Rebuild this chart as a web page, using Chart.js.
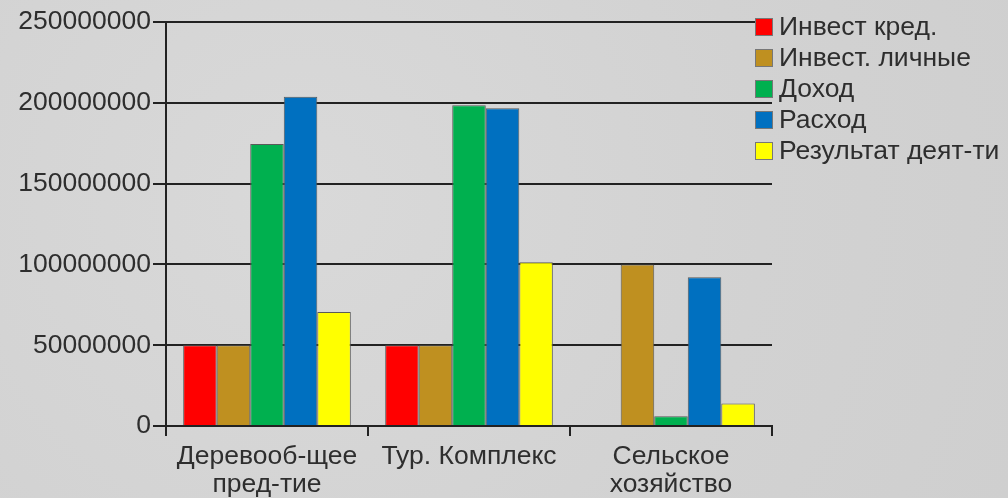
<!DOCTYPE html>
<html>
<head>
<meta charset="utf-8">
<script src="https://cdn.jsdelivr.net/npm/chart.js@4.4.1/dist/chart.umd.min.js"></script>
<style>
  html, body { margin: 0; padding: 0; }
  body {
    width: 1008px; height: 498px; overflow: hidden;
    background: #d4d4d4;
    background-image: radial-gradient(circle at 30% 40%, #d9d9d9 0%, #d2d2d2 60%, #cfcfcf 100%);
  }
  #wrap { position: relative; width: 1008px; height: 498px; }
</style>
</head>
<body>
<div id="wrap"><canvas id="chart" width="1008" height="498"></canvas></div>
<script>
// категории и ряды
const categories = [["Деревооб-щее", "пред-тие"], "Тур. Комплекс", ["Сельское", "хозяйство"]];
const seriesNames = ["Инвест кред.", "Инвест. личные", "Доход", "Расход", "Результат деят-ти"];
const investKred = [50000000, 50000000, 0];
const investLich = [50000000, 50000000, 100000000];
const dohod = [174500000, 198500000, 6000000];
const rashod = [203800000, 196700000, 92000000];
const result = [70600000, 101400000, 14000000];
const yTicks = [0, 50000000, 100000000, 150000000, 200000000, 250000000];

const colors = ["#ff0000", "#bf9020", "#00b04f", "#0070c0", "#ffff00"];
const values = [investKred, investLich, dohod, rashod, result];
const textColor = "#2e2e2e";
const font = "Liberation Sans, Arial, sans-serif";
const fontSize = 26.5;

// легенда поверх графика, как в оригинале
const sideLegend = {
  id: "sideLegend",
  afterDraw(chart) {
    const ctx = chart.ctx;
    ctx.save();
    ctx.font = fontSize + "px " + font;
    ctx.textBaseline = "middle";
    chart.data.datasets.forEach((ds, i) => {
      const cy = 27 + i * 31;
      ctx.fillStyle = ds.backgroundColor;
      ctx.fillRect(755, cy - 9, 18, 18);
      ctx.strokeStyle = "#777";
      ctx.lineWidth = 1;
      ctx.strokeRect(755.5, cy - 8.5, 17, 17);
      ctx.fillStyle = textColor;
      ctx.fillText(ds.label, 779, cy + 1);
    });
    ctx.restore();
  }
};

new Chart(document.getElementById("chart"), {
  type: "bar",
  data: {
    labels: categories,
    datasets: seriesNames.map((name, i) => ({
      label: name,
      data: values[i],
      backgroundColor: colors[i],
      borderColor: "#5a5a5a",
      borderWidth: 1,
      categoryPercentage: 0.83,
      barPercentage: 1
    }))
  },
  options: {
    responsive: false,
    animation: false,
    devicePixelRatio: 1,
    layout: { padding: { left: 0, right: 236, top: 22, bottom: 0 } },
    plugins: {
      legend: { display: false },
      tooltip: { enabled: false }
    },
    scales: {
      x: {
        grid: { drawOnChartArea: false, drawTicks: true, tickLength: 10, color: "#222", lineWidth: 2 },
        border: { display: true, color: "#222", width: 2 },
        ticks: { color: textColor, font: { family: font, size: fontSize, lineHeight: 1.05 }, padding: 7, maxRotation: 0 },
        afterFit(scale) { scale.height = 72; }
      },
      y: {
        min: 0,
        max: 250000000,
        afterBuildTicks(scale) { scale.ticks = yTicks.map(v => ({ value: v })); },
        grid: { color: "#222", lineWidth: 2, tickLength: 13 },
        border: { display: true, color: "#222", width: 2 },
        ticks: { color: textColor, font: { family: font, size: fontSize }, padding: 2, callback: v => String(v) },
        afterFit(scale) { scale.width = 166; }
      }
    }
  },
  plugins: [sideLegend]
});
</script>
</body>
</html>
